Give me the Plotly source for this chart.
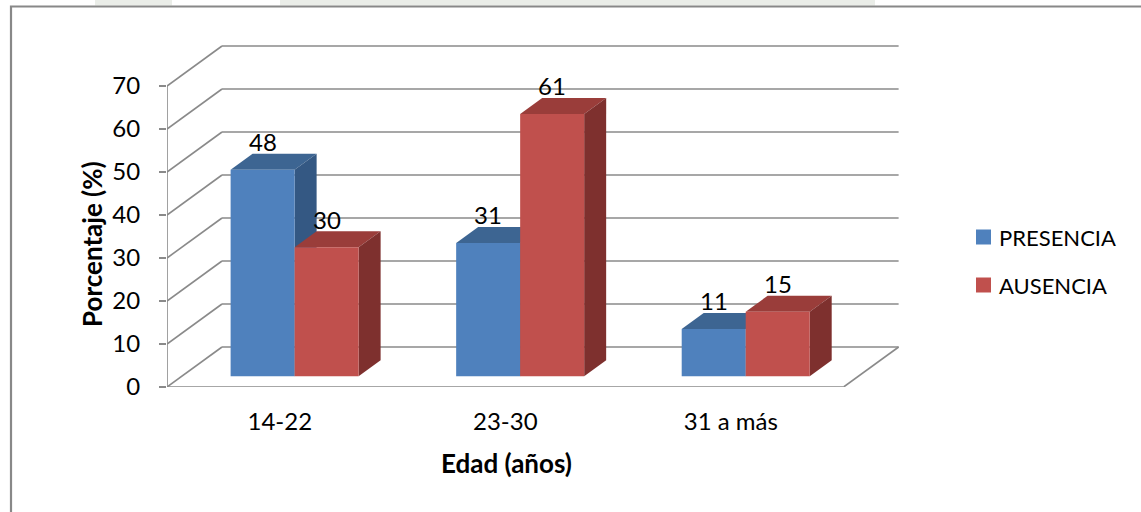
import plotly.graph_objects as go

# ---- data ----
categories = ["14-22", "23-30", "31 a más"]
presencia = [48, 31, 11]
ausencia = [30, 61, 15]
series_names = ["PRESENCIA", "AUSENCIA"]
y_ticks = [0, 10, 20, 30, 40, 50, 60, 70]

# ---- styling ----
FONT = "Lato"
FS = 24
GRID = "#8a8a8a"
FRONT = ["#4F81BD", "#C0504D"]
TOP = ["#3D6592", "#9A3D3A"]
SIDE = ["#345883", "#7E302E"]

# page / plot-area geometry (pixels)
W, H = 1141, 512
ML, MR, MT, MB = 167, 241, 43, 125
PW, PH = W - ML - MR, H - MT - MB

# axis ranges: x in category units, y in percent
X0, X1 = -0.5, 2.75
Y0, Y1 = 0, 80
PX_X = PW / (X1 - X0)
PX_Y = PH / (Y1 - Y0)

# oblique depth of the 3-D box expressed in data units
DX = 55 / PX_X
DY = 40 / PX_Y
D_FRONT = 0.27   # depth fraction of the bar front faces
D_BAR = 0.40     # depth fraction of a bar
BAR_W = 64 / PX_X
BASE = D_FRONT * DY
SHIFT = D_FRONT * DX
n = len(categories)


def px2x(px):
    return (px - ML) / PW


def py2y(py):
    return (H - MB - py) / PH


shapes = []

# faint band along the top edge
for a, b in [(95, 172), (280, 875)]:
    shapes.append(dict(type="rect", xref="paper", yref="paper",
                       x0=px2x(a), x1=px2x(b), y0=py2y(0), y1=py2y(5.5),
                       fillcolor="#eaede8", line=dict(width=0), layer="below"))

# back wall gridlines and left wall diagonals
for v in y_ticks:
    shapes.append(dict(type="line", xref="x", yref="y",
                       x0=X0 + DX, y0=v + DY, x1=X0 + n + DX, y1=v + DY,
                       line=dict(color=GRID, width=1.6), layer="below"))
    shapes.append(dict(type="line", xref="x", yref="y",
                       x0=X0, y0=v, x1=X0 + DX, y1=v + DY,
                       line=dict(color=GRID, width=1.6), layer="below"))

# floor front and right edges
shapes.append(dict(type="line", xref="x", yref="y", x0=X0, y0=0, x1=X0 + n, y1=0,
                   line=dict(color=GRID, width=1.6), layer="below"))
shapes.append(dict(type="line", xref="x", yref="y", x0=X0 + n, y0=0,
                   x1=X0 + n + DX, y1=DY,
                   line=dict(color=GRID, width=1.6), layer="below"))
# vertical axis line
shapes.append(dict(type="line", xref="x", yref="y", x0=X0, y0=0, x1=X0, y1=y_ticks[-1],
                   line=dict(color=GRID, width=1.6), layer="below"))


def poly(pts, color):
    d = "M " + " L ".join(f"{x},{y}" for x, y in pts) + " Z"
    return dict(type="path", xref="x", yref="y", path=d,
                fillcolor=color, line=dict(width=0), layer="below")


series = [presencia, ausencia]
ddx, ddy = D_BAR * DX, D_BAR * DY
annotations = []
traces = []

# top and side faces, drawn left to right so nearer faces cover farther ones
for i in range(n):
    for s, vals in enumerate(series):
        xc = i + SHIFT + (s - 0.5) * BAR_W
        xl, xr = xc - BAR_W / 2, xc + BAR_W / 2
        top = BASE + vals[i]
        shapes.append(poly([(xl, top), (xr, top), (xr + ddx, top + ddy),
                            (xl + ddx, top + ddy)], TOP[s]))
        shapes.append(poly([(xr, BASE), (xr + ddx, BASE + ddy),
                            (xr + ddx, top + ddy), (xr, top)], SIDE[s]))
        annotations.append(dict(x=xc, y=top, xref="x", yref="y", text=str(vals[i]),
                                showarrow=False, yshift=28, yanchor="middle",
                                font=dict(family=FONT, size=FS, color="#000")))

# front faces as bar traces
for s, vals in enumerate(series):
    xs = [i + SHIFT + (s - 0.5) * BAR_W for i in range(n)]
    traces.append(go.Bar(x=xs, y=vals, base=BASE, width=BAR_W, name=series_names[s],
                         marker=dict(color=FRONT[s], line=dict(width=0)),
                         showlegend=False, hoverinfo="skip"))

# legend
for s, name in enumerate(series_names):
    cy = 237 + 48 * s
    shapes.append(dict(type="rect", xref="paper", yref="paper",
                       x0=px2x(976), x1=px2x(991), y0=py2y(cy + 7.5), y1=py2y(cy - 7.5),
                       fillcolor=FRONT[s], line=dict(width=0)))
    annotations.append(dict(x=px2x(997), y=py2y(cy), xref="paper", yref="paper",
                            text=name, showarrow=False, xanchor="left", yanchor="middle",
                            font=dict(family=FONT, size=22, color="#000")))

# axis titles
annotations.append(dict(x=px2x(92), y=py2y(244), xref="paper", yref="paper",
                        text="<b>Porcentaje (%)</b>", textangle=-90, showarrow=False,
                        xanchor="center", yanchor="middle",
                        font=dict(family=FONT, size=26, color="#000")))
annotations.append(dict(x=px2x(506), y=py2y(463), xref="paper", yref="paper",
                        text="<b>Edad (años)</b>", showarrow=False,
                        xanchor="center", yanchor="middle",
                        font=dict(family=FONT, size=26, color="#000")))

# outer frame
shapes.append(dict(type="rect", xref="paper", yref="paper",
                   x0=px2x(11), x1=px2x(1160), y0=py2y(6.5), y1=py2y(540),
                   line=dict(color="#888888", width=2.2), fillcolor="rgba(0,0,0,0)"))

fig = go.Figure(traces)
fig.update_layout(
    width=W, height=H,
    margin=dict(l=ML, r=MR, t=MT, b=MB, pad=0),
    paper_bgcolor="white", plot_bgcolor="white",
    barmode="overlay",
    shapes=shapes, annotations=annotations,
    font=dict(family=FONT, size=FS, color="#000"),
    xaxis=dict(range=[X0, X1], tickmode="array", tickvals=list(range(n)),
               ticktext=categories, showgrid=False, zeroline=False, showline=False,
               ticks="", ticklabelstandoff=18, fixedrange=True,
               tickfont=dict(family=FONT, size=FS, color="#000")),
    yaxis=dict(range=[Y0, Y1], tickmode="array", tickvals=y_ticks,
               showgrid=False, zeroline=False, showline=False,
               ticks="outside", ticklen=7, tickwidth=1.6, tickcolor=GRID,
               ticklabelstandoff=14, fixedrange=True,
               tickfont=dict(family=FONT, size=FS, color="#000")),
)

fig.write_html("out.html")
